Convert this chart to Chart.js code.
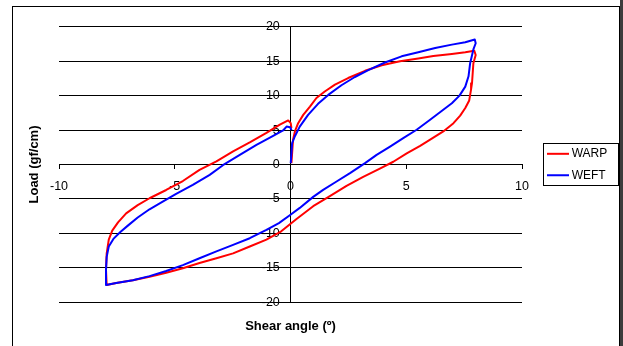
<!DOCTYPE html>
<html>
<head>
<meta charset="utf-8">
<title>Shear hysteresis</title>
<script src="https://cdn.jsdelivr.net/npm/chart.js@4.4.1/dist/chart.umd.min.js"></script>
<style>
  html, body { margin: 0; padding: 0; background: #fff; }
  canvas { display: block; }
</style>
</head>
<body>
<canvas id="chart" width="623" height="346"></canvas>
<script>
// Shear angle (degrees) and load (gf/cm) along each loop: loading to +8,
// unloading to -8, then back to 0.
const warpAngle = [0.04, 0.07, 0.11, 0.19, 0.33, 0.55, 0.84, 1.12, 1.48, 1.92, 2.49, 3.22, 3.94, 4.73, 5.52, 6.17, 6.97, 7.55, 7.94, 8.0, 7.9, 7.84, 7.8, 7.72, 7.55, 7.33, 7.04, 6.6, 6.17, 5.6, 5.02, 4.44, 3.86, 3.14, 2.42, 1.7, 0.98, 0.26, -0.4, -1.04, -1.76, -2.48, -3.2, -3.93, -4.65, -5.37, -6.09, -6.81, -7.53, -7.94, -7.97, -7.94, -7.85, -7.7, -7.45, -7.1, -6.6, -6.09, -5.37, -4.65, -3.93, -3.2, -2.48, -1.76, -1.04, -0.46, -0.1, 0.01, 0.04];
const warpLoad = [0.2, 1.65, 3.6, 4.8, 6.0, 7.2, 8.4, 9.65, 10.6, 11.6, 12.55, 13.6, 14.4, 15.0, 15.4, 15.75, 16.05, 16.3, 16.5, 15.9, 14.7, 11.8, 10.9, 9.3, 8.2, 7.1, 6.0, 4.8, 3.9, 2.7, 1.6, 0.4, -0.6, -1.8, -3.1, -4.6, -6.05, -7.9, -9.7, -10.9, -11.9, -12.9, -13.6, -14.3, -15.06, -15.7, -16.3, -16.8, -17.2, -17.5, -15.3, -12.9, -10.9, -9.6, -8.4, -7.1, -5.9, -4.9, -3.7, -2.4, -0.77, 0.44, 1.9, 3.2, 4.6, 5.8, 6.4, 6.0, 5.3];

const weftAngle = [0.01, 0.07, 0.19, 0.40, 0.76, 1.19, 1.63, 2.2, 2.78, 3.36, 4.08, 4.8, 5.52, 6.25, 6.97, 7.55, 7.96, 8.0, 7.9, 7.76, 7.69, 7.55, 7.3, 6.97, 6.6, 6.03, 5.45, 4.87, 4.3, 3.72, 3.22, 2.57, 1.99, 1.41, 0.98, 0.40, 0.0, -0.5, -1.04, -1.76, -2.48, -3.2, -3.93, -4.65, -5.37, -6.09, -6.81, -7.53, -7.97, -7.97, -7.94, -7.85, -7.65, -7.35, -7.0, -6.6, -6.09, -5.52, -4.94, -4.22, -3.49, -2.92, -2.19, -1.47, -0.75, -0.32, -0.17, -0.02, 0.05];
const weftLoad = [0.2, 3.1, 4.1, 5.5, 7.2, 8.8, 10.1, 11.5, 12.7, 13.7, 14.8, 15.7, 16.3, 16.9, 17.4, 17.75, 18.15, 17.6, 16.7, 14.7, 12.8, 11.3, 10.0, 8.9, 7.95, 6.5, 5.04, 3.83, 2.6, 1.4, 0.2, -1.25, -2.47, -3.68, -4.7, -6.3, -7.3, -8.5, -9.5, -10.7, -11.67, -12.6, -13.6, -14.6, -15.45, -16.2, -16.8, -17.2, -17.5, -15.3, -13.4, -11.9, -10.8, -9.8, -8.8, -7.7, -6.5, -5.4, -4.25, -2.95, -1.5, -0.1, 1.4, 2.86, 4.17, 4.94, 5.5, 5.4, 5.0];

const seriesNames = ['WARP', 'WEFT'];
const seriesColors = ['#ff0000', '#0000ff'];
const angleTicks = [-10, -5, 0, 5, 10];
const loadTicks = [-20, -15, -10, -5, 0, 5, 10, 15, 20];

const FONT = "'Liberation Sans', Arial, Helvetica, sans-serif";
Chart.defaults.font.family = FONT;
Chart.defaults.color = '#000';

const toPoints = (xs, ys) => xs.map((x, i) => ({ x, y: ys[i] }));

// Legend geometry: entries start at a fixed x, whatever the text width
const LEGEND_FONT = 12;
const LEGEND_PAD = 9.4;
const LEGEND_BOX = 14.8;
const LEGEND_ITEM_X = 550.9;
const PLOT_RIGHT = 522;
const measureCtx = document.createElement('canvas').getContext('2d');
measureCtx.font = LEGEND_FONT + 'px ' + FONT;
const legendTextW = Math.max(...seriesNames.map(s => measureCtx.measureText(s).width));
const legendW = LEGEND_PAD + LEGEND_BOX + LEGEND_FONT / 2 + legendTextW + 10;
const legendLeft = LEGEND_ITEM_X - LEGEND_PAD;
const rightPad = 623 - legendLeft - legendW;
const legendGapW = legendLeft - PLOT_RIGHT;

// Short horizontal stroke used as the legend sample
function sampleLine(color) {
  const c = document.createElement('canvas');
  c.width = 22; c.height = 4;
  const g = c.getContext('2d');
  g.fillStyle = color;
  g.fillRect(0, 1, 22, 2);
  return c;
}

// White page, outer frame and shaded right edge
const framePlugin = {
  id: 'frame',
  beforeDraw(chart) {
    const ctx = chart.ctx;
    ctx.save();
    ctx.fillStyle = '#fff';
    ctx.fillRect(0, 0, chart.width, chart.height);
    ctx.strokeStyle = '#000';
    ctx.lineWidth = 1;
    ctx.strokeRect(12.5, 6.5, 607, 400);
    ctx.fillStyle = '#3c3c3c';
    ctx.fillRect(620, 0, 3, chart.height);
    ctx.restore();
  }
};

// Border box round the legend entries
const legendBoxPlugin = {
  id: 'legendBox',
  afterDraw(chart) {
    const hb = chart.legend && chart.legend.legendHitBoxes;
    if (!hb || hb.length < 2) return;
    const ctx = chart.ctx;
    const x0 = Math.round(hb[0].left - 8.2) + 0.5;
    const x1 = Math.round(hb[0].left + 66.6) + 0.5;
    const y0 = Math.round(hb[0].top - 4.5) + 0.5;
    const y1 = Math.round(hb[1].top + 15.8) + 0.5;
    ctx.save();
    ctx.strokeStyle = '#000';
    ctx.lineWidth = 1;
    ctx.strokeRect(x0, y0, x1 - x0, y1 - y0);
    ctx.restore();
  }
};

const datasets = [
  { label: seriesNames[0], data: toPoints(warpAngle, warpLoad), order: 1 },
  { label: seriesNames[1], data: toPoints(weftAngle, weftLoad), order: 0 }
].map((d, i) => Object.assign(d, {
  borderColor: seriesColors[i],
  backgroundColor: seriesColors[i],
  borderWidth: 2,
  showLine: true,
  pointRadius: 0,
  pointHoverRadius: 0,
  tension: 0,
  borderJoinStyle: 'round',
  fill: false
}));

new Chart(document.getElementById('chart'), {
  type: 'scatter',
  data: { datasets },
  plugins: [framePlugin, legendBoxPlugin],
  options: {
    responsive: false,
    animation: false,
    events: [],
    layout: { padding: { left: 0, top: 26.7, right: rightPad, bottom: 11.5 } },
    plugins: {
      tooltip: { enabled: false },
      legend: {
        display: true,
        position: 'right',
        fullSize: false,
        align: 'center',
        labels: {
          font: { family: FONT, size: LEGEND_FONT },
          color: '#000',
          padding: LEGEND_PAD,
          usePointStyle: true,
          pointStyleWidth: LEGEND_BOX,
          generateLabels(chart) {
            const items = Chart.defaults.plugins.legend.labels.generateLabels(chart);
            items.sort((a, b) => a.datasetIndex - b.datasetIndex);
            items.forEach(it => { it.pointStyle = sampleLine(seriesColors[it.datasetIndex]); });
            return items;
          }
        }
      }
    },
    scales: {
      x: {
        type: 'linear',
        position: { y: 0 },
        min: -10,
        max: 10,
        afterBuildTicks(s) { s.ticks = angleTicks.map(v => ({ value: v })); },
        grid: { drawOnChartArea: false, drawTicks: true, tickLength: 4, color: '#000', lineWidth: 1 },
        border: { display: true, color: '#000', width: 1 },
        ticks: { font: { family: FONT, size: 12.5 }, color: '#000', padding: 11, maxRotation: 0, autoSkip: false }
      },
      y: {
        type: 'linear',
        position: 'center',
        min: -20,
        max: 20,
        afterBuildTicks(s) { s.ticks = loadTicks.map(v => ({ value: v })); },
        grid: { drawOnChartArea: true, drawTicks: true, tickLength: 4, color: '#000', lineWidth: 1 },
        border: { display: true, color: '#000', width: 1 },
        ticks: { font: { family: FONT, size: 12.5 }, color: '#000', padding: 6.7, autoSkip: false }
      },
      xTitle: {
        type: 'linear',
        axis: 'x',
        position: 'bottom',
        grid: { display: false, drawTicks: false },
        border: { display: false },
        ticks: { display: false },
        title: {
          display: true,
          text: 'Shear angle (º)',
          color: '#000',
          font: { family: FONT, size: 13, weight: 'bold' },
          padding: { top: 16.6, bottom: 0 }
        }
      },
      yTitle: {
        type: 'linear',
        axis: 'y',
        position: 'left',
        grid: { display: false, drawTicks: false },
        border: { display: false },
        ticks: { display: false },
        title: {
          display: true,
          text: 'Load (gf/cm)',
          color: '#000',
          font: { family: FONT, size: 13, weight: 'bold' },
          padding: { top: 26.2, bottom: 17.2 }
        }
      },
      legendGap: {
        type: 'linear',
        axis: 'y',
        position: 'right',
        grid: { display: false, drawTicks: false },
        border: { display: false },
        ticks: { display: false },
        afterFit(s) { s.width = legendGapW; }
      }
    }
  }
});
</script>
</body>
</html>
